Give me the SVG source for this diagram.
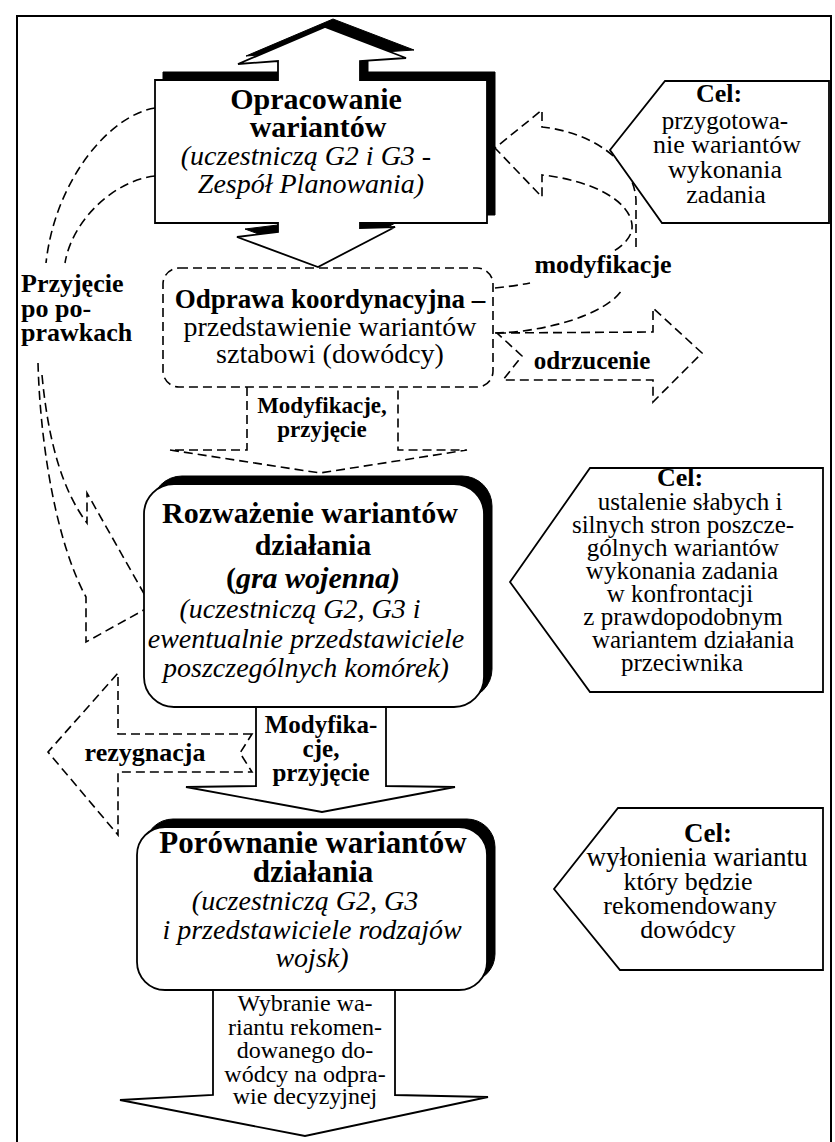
<svg xmlns="http://www.w3.org/2000/svg" width="835" height="1142" viewBox="0 0 835 1142">
<style>
text { font-family: "Liberation Serif", "Times New Roman", serif; fill: #000; }
.b { font-weight: bold; }
.i { font-style: italic; }
.c { text-anchor: middle; }
.shape { fill: #fff; stroke: #000; stroke-width: 1.8; stroke-linejoin: miter; }
.shadow { fill: #000; stroke: #000; stroke-width: 1; }
.dash { fill: none; stroke: #000; stroke-width: 1.6; stroke-dasharray: 9 5; }
.dashbox { fill: #fff; stroke: #000; stroke-width: 1.6; stroke-dasharray: 9 5; }
.solidarrow { fill: #fff; stroke: #000; stroke-width: 1.8; }
</style>
<rect x="0" y="0" width="835" height="1142" fill="#fff"/>
<rect id="frame" x="17" y="16" width="814" height="1140" fill="none" stroke="#000" stroke-width="2"/>

<g id="connectors">
  <!-- left: Przyjęcie po poprawkach -->
  <path class="dash" d="M155,108 C110,115 55,180 46,263"/>
  <path class="dash" d="M155,176 C115,180 72,220 65,263"/>
  <path class="dash" d="M38,363 C40,440 55,540 86,597 L86,642 L151,606"/>
  <path class="dash" d="M42,375 C48,440 62,490 87,523 L87,493 L151,606"/>
  <!-- right: modyfikacje loop -->
  <path class="dash" d="M495,333 C545,332 605,315 622,290"/>
  <path class="dash" d="M636,247 L636,200 C634,160 590,132 542,127 L542,110 L495,148 L542,197 L542,175 C590,180 630,200 632,225 C633,235 625,245 612,252"/>
  <path class="dash" d="M495,288 C505,287 520,285 530,283"/>
  <!-- odrzucenie -->
  <path class="dash" d="M497,333 L653,332 L653,308 L702,353 L653,402 L653,380 L503,380 L522,356 Z"/>
  <!-- Modyfikacje, przyjęcie (dashed) -->
  <path class="dash" d="M247,387 L247,450 L170,450 L320,473 L467,450 L398,450 L398,387"/>
  <!-- rezygnacja -->
  <path class="dash" d="M252,734 L118,734 L118,673 L48,752 L118,835 L118,772 L252,772 L240,753 Z"/>
  <!-- solid arrows -->
  <path class="solidarrow" d="M256,707 L256,786 L186,787 L322,812 L455,787 L386,786 L386,707"/>
  <path class="solidarrow" d="M213,990 L213,1095 L120,1100 L305,1136 L488,1097 L395,1095 L395,990"/>
  <!-- labels -->
  <text class="b c" x="603" y="273" font-size="26">modyfikacje</text>
  <text class="b" x="21" y="292" font-size="26">Przyjęcie</text>
  <text class="b" x="21" y="317" font-size="26">po po-</text>
  <text class="b" x="21" y="341" font-size="26">prawkach</text>
  <text class="b c" x="592" y="369" font-size="25">odrzucenie</text>
  <text class="b c" x="322" y="413" font-size="23">Modyfikacje,</text>
  <text class="b c" x="322" y="437" font-size="23">przyjęcie</text>
  <text class="b c" x="145" y="761" font-size="26">rezygnacja</text>
  <text class="b c" x="321" y="733" font-size="25">Modyfika-</text>
  <text class="b c" x="321" y="757" font-size="25">cje,</text>
  <text class="b c" x="321" y="781" font-size="25">przyjęcie</text>
  <text class="c" x="305" y="1011" font-size="24">Wybranie wa-</text>
  <text class="c" x="305" y="1035" font-size="24">riantu rekomen-</text>
  <text class="c" x="305" y="1058" font-size="24">dowanego do-</text>
  <text class="c" x="305" y="1082" font-size="24">wódcy na odpra-</text>
  <text class="c" x="305" y="1104" font-size="24">wie decyzyjnej</text>
</g>

<g id="node-opracowanie">
  <path class="shadow" transform="translate(8,-8)" d="M155,80 L278,80 L278,61 L238,64 L325,27 L406,58 L360,61 L360,80 L487,80 L487,223 L360,223 L360,228 L395,227 L318,267 L237,237 L278,232 L278,223 L155,223 Z"/>
  <path class="shape" d="M155,80 L278,80 L278,61 L238,64 L325,27 L406,58 L360,61 L360,80 L487,80 L487,223 L360,223 L360,228 L395,227 L318,267 L237,237 L278,232 L278,223 L155,223 Z"/>
  <text class="b c" x="316" y="109" font-size="30">Opracowanie</text>
  <text class="b c" x="318" y="137" font-size="30">wariantów</text>
  <text class="i c" x="306" y="165" font-size="28">(uczestniczą G2 i G3 -</text>
  <text class="i c" x="311" y="193" font-size="28">Zespół Planowania)</text>
</g>

<g id="node-cel1">
  <polygon class="shape" points="665,81 829,81 829,223 662,223 610,150"/>
  <text class="b c" x="719" y="102" font-size="26">Cel:</text>
  <text class="c" x="725" y="129" font-size="25">przygotowa-</text>
  <text class="c" x="727" y="153" font-size="26">nie wariantów</text>
  <text class="c" x="725" y="178" font-size="26">wykonania</text>
  <text class="c" x="726" y="203" font-size="26">zadania</text>
</g>

<g id="node-odprawa">
  <rect class="dashbox" x="163" y="268" width="330" height="119" rx="16" ry="16"/>
  <text class="b c" x="330" y="308" font-size="27">Odprawa koordynacyjna –</text>
  <text class="c" x="330" y="336" font-size="28">przedstawienie wariantów</text>
  <text class="c" x="330" y="363" font-size="28">sztabowi (dowódcy)</text>
</g>

<g id="node-rozwazenie">
  <rect class="shadow" x="152" y="476" width="340" height="223" rx="30" ry="30"/>
  <rect class="shape" x="144" y="484" width="340" height="223" rx="30" ry="30"/>
  <text class="b c" x="310" y="523" font-size="30">Rozważenie wariantów</text>
  <text class="b c" x="313" y="555" font-size="30">działania</text>
  <text class="b c" x="313" y="588" font-size="30">(<tspan class="i">gra wojenna)</tspan></text>
  <text class="i c" x="300" y="618" font-size="28">(uczestniczą G2, G3 i</text>
  <text class="i c" x="306" y="648" font-size="28">ewentualnie przedstawiciele</text>
  <text class="i c" x="306" y="677" font-size="28">poszczególnych komórek)</text>
</g>

<g id="node-cel2">
  <polygon class="shape" points="590,468 823,468 823,692 590,692 510,582"/>
  <text class="b c" x="680" y="486" font-size="26">Cel:</text>
  <text class="c" x="690" y="510" font-size="25">ustalenie słabych i</text>
  <text class="c" x="683" y="533" font-size="25">silnych stron poszcze-</text>
  <text class="c" x="683" y="556" font-size="25">gólnych wariantów</text>
  <text class="c" x="682" y="579" font-size="25">wykonania zadania</text>
  <text class="c" x="680" y="602" font-size="25">w konfrontacji</text>
  <text class="c" x="683" y="625" font-size="25">z prawdopodobnym</text>
  <text class="c" x="693" y="648" font-size="25">wariantem działania</text>
  <text class="c" x="682" y="671" font-size="25">przeciwnika</text>
</g>

<g id="node-porownanie">
  <rect class="shadow" x="145" y="819" width="350" height="163" rx="28" ry="28"/>
  <rect class="shape" x="137" y="827" width="350" height="163" rx="28" ry="28"/>
  <text class="b c" x="313" y="853" font-size="31">Porównanie wariantów</text>
  <text class="b c" x="313" y="882" font-size="31">działania</text>
  <text class="i c" x="305" y="910" font-size="28">(uczestniczą G2, G3</text>
  <text class="i c" x="312" y="939" font-size="28">i przedstawiciele rodzajów</text>
  <text class="i c" x="312" y="967" font-size="28">wojsk)</text>
</g>

<g id="node-cel3">
  <polygon class="shape" points="618,808 823,808 823,970 620,970 554,889"/>
  <text class="b c" x="708" y="842" font-size="27">Cel:</text>
  <text class="c" x="697" y="866" font-size="27">wyłonienia wariantu</text>
  <text class="c" x="688" y="890" font-size="26">który będzie</text>
  <text class="c" x="690" y="914" font-size="26">rekomendowany</text>
  <text class="c" x="688" y="938" font-size="26">dowódcy</text>
</g>
</svg>
